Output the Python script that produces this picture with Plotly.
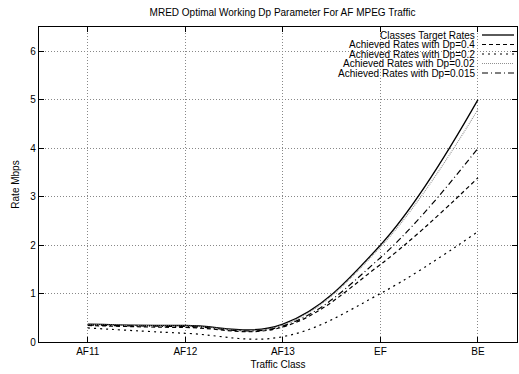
import plotly.graph_objects as go

categories = ["AF11", "AF12", "AF13", "EF", "BE"]
target = [0.37, 0.34, 0.37, 2.0, 5.0]
dp_04 = [0.34, 0.30, 0.31, 1.60, 3.39]
dp_02 = [0.29, 0.18, 0.11, 1.0, 2.28]
dp_002 = [0.36, 0.33, 0.35, 1.96, 4.80]
dp_0015 = [0.35, 0.32, 0.33, 1.74, 4.0]

series = [
    ("Classes Target Rates", target, dict(color="black", width=1.3, dash="solid")),
    ("Achieved Rates with Dp=0.4", dp_04, dict(color="black", width=1.2, dash="4px,3px")),
    ("Achieved Rates with Dp=0.2", dp_02, dict(color="black", width=1.2, dash="2px,4px")),
    ("Achieved Rates with Dp=0.02", dp_002, dict(color="#909090", width=1.1, dash="1px,1px")),
    ("Achieved Rates with Dp=0.015", dp_0015, dict(color="black", width=1.2, dash="6px,3px,1px,3px")),
]

x_idx = list(range(len(categories)))
FONT = "Liberation Sans, Arial, Helvetica, sans-serif"

fig = go.Figure()
for name, vals, ln in series:
    fig.add_trace(go.Scatter(x=x_idx, y=vals, mode="lines", name=name,
                             line=dict(shape="spline", smoothing=1.1, **ln),
                             showlegend=False, hoverinfo="skip"))

# white box behind key (clears grid, like gnuplot)
fig.add_shape(type="rect", xref="paper", yref="paper",
              x0=(302 - 39) / 478, x1=1.0, y0=(342 - 93) / 315, y1=1.0,
              fillcolor="white", line=dict(width=0), layer="below")

key_y = [35, 44.5, 54, 63.5, 73]
for (name, vals, ln), py in zip(series, key_y):
    yp = (342 - py) / 315
    fig.add_annotation(xref="paper", yref="paper", x=(477 - 39) / 478, y=yp,
                       text=name, showarrow=False, xanchor="right", yanchor="middle",
                       font=dict(family=FONT, size=10, color="black"))
    fig.add_shape(type="line", xref="paper", yref="paper",
                  x0=(482 - 39) / 478, x1=(514 - 39) / 478, y0=yp, y1=yp,
                  line=dict(color=ln["color"], width=ln["width"], dash=ln["dash"]))

grid = dict(showgrid=True, gridcolor="#888888", gridwidth=1, griddash="1px,2px")
fig.update_xaxes(range=[-0.5, 4.4], tickmode="array", tickvals=x_idx, ticktext=categories,
                 ticks="inside", ticklen=5, tickcolor="black", showline=True,
                 linecolor="black", linewidth=1.3, mirror="ticks", zeroline=False,
                 title=dict(text="Traffic Class", standoff=4,
                            font=dict(family=FONT, size=10, color="black")),
                 tickfont=dict(family=FONT, size=10, color="black"), **grid)
fig.update_yaxes(range=[0, 6.5], tickvals=[0, 1, 2, 3, 4, 5, 6],
                 ticks="inside", ticklen=5, tickcolor="black", showline=True,
                 linecolor="black", linewidth=1.3, mirror="ticks", zeroline=False,
                 title=dict(text="Rate Mbps", standoff=8,
                            font=dict(family=FONT, size=10, color="black")),
                 tickfont=dict(family=FONT, size=10, color="black"), **grid)

fig.update_layout(
    width=519, height=374,
    margin=dict(l=39, r=2, t=27, b=32),
    paper_bgcolor="white", plot_bgcolor="white",
    title=dict(text="MRED Optimal Working Dp Parameter For AF MPEG Traffic",
               x=(282.5) / 519, xanchor="center", y=1 - 12 / 374, yanchor="middle",
               font=dict(family=FONT, size=10, color="black")),
    showlegend=False,
)

fig.write_html("out.html", config={"displayModeBar": False, "staticPlot": True},
               post_script="document.body.style.margin='0';document.body.style.overflow='hidden';")
